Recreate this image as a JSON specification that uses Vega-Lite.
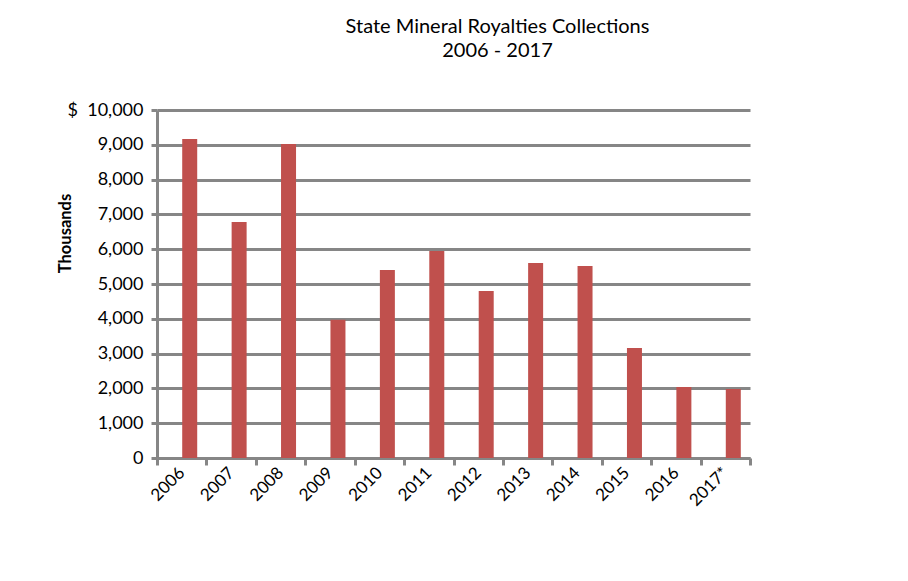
{
  "$schema": "https://vega.github.io/schema/vega-lite/v6.json",
  "width": 593,
  "height": 348,
  "autosize": "none",
  "padding": {"left": 157, "top": 110, "right": 158, "bottom": 123},
  "background": "white",
  "title": {
    "text": ["State Mineral Royalties Collections", "2006 - 2017"],
    "font": "Lato",
    "fontSize": 20,
    "fontWeight": "normal",
    "color": "#000000",
    "anchor": "middle",
    "dx": 44,
    "offset": 40,
    "lineHeight": 24
  },
  "data": {
    "values": [
      {"year": "2006", "value": 9170},
      {"year": "2007", "value": 6780},
      {"year": "2008", "value": 9020},
      {"year": "2009", "value": 3970},
      {"year": "2010", "value": 5400},
      {"year": "2011", "value": 5950},
      {"year": "2012", "value": 4800},
      {"year": "2013", "value": 5600},
      {"year": "2014", "value": 5520},
      {"year": "2015", "value": 3160},
      {"year": "2016", "value": 2040},
      {"year": "2017*", "value": 1980}
    ]
  },
  "mark": {"type": "bar", "color": "#C0504D", "width": 15, "xOffset": 8},
  "encoding": {
    "x": {
      "field": "year",
      "type": "nominal",
      "sort": null,
      "scale": {"paddingInner": 0, "paddingOuter": 0},
      "axis": {
        "title": null,
        "labelAngle": -45,
        "labelAlign": "right",
        "labelBaseline": "middle",
        "labelFont": "Lato",
        "labelFontSize": 17,
        "labelColor": "#000000",
        "labelPadding": 5,
        "domainColor": "#868686",
        "domainWidth": 3,
        "tickColor": "#868686",
        "tickWidth": 3,
        "tickSize": 7,
        "tickBand": "extent",
        "grid": false
      }
    },
    "y": {
      "field": "value",
      "type": "quantitative",
      "scale": {"domain": [0, 10000], "nice": false},
      "axis": {
        "title": "Thousands",
        "titleFont": "Lato",
        "titleFontSize": 16.5,
        "titleFontWeight": "bold",
        "titleColor": "#000000",
        "titleX": -84,
        "titleY": 123,
        "titleAlign": "center",
        "titleAngle": -90,
        "values": [0, 1000, 2000, 3000, 4000, 5000, 6000, 7000, 8000, 9000, 10000],
        "labelExpr": "datum.value == 10000 ? '$\u00a0\u00a010,000' : format(datum.value, ',')",
        "labelFont": "Lato",
        "labelFontSize": 18,
        "labelColor": "#000000",
        "labelPadding": 8,
        "domainColor": "#868686",
        "domainWidth": 3,
        "tickColor": "#868686",
        "tickWidth": 3,
        "tickSize": 6,
        "grid": true,
        "gridColor": "#868686",
        "gridWidth": 3
      }
    }
  },
  "config": {"view": {"stroke": null}}
}
